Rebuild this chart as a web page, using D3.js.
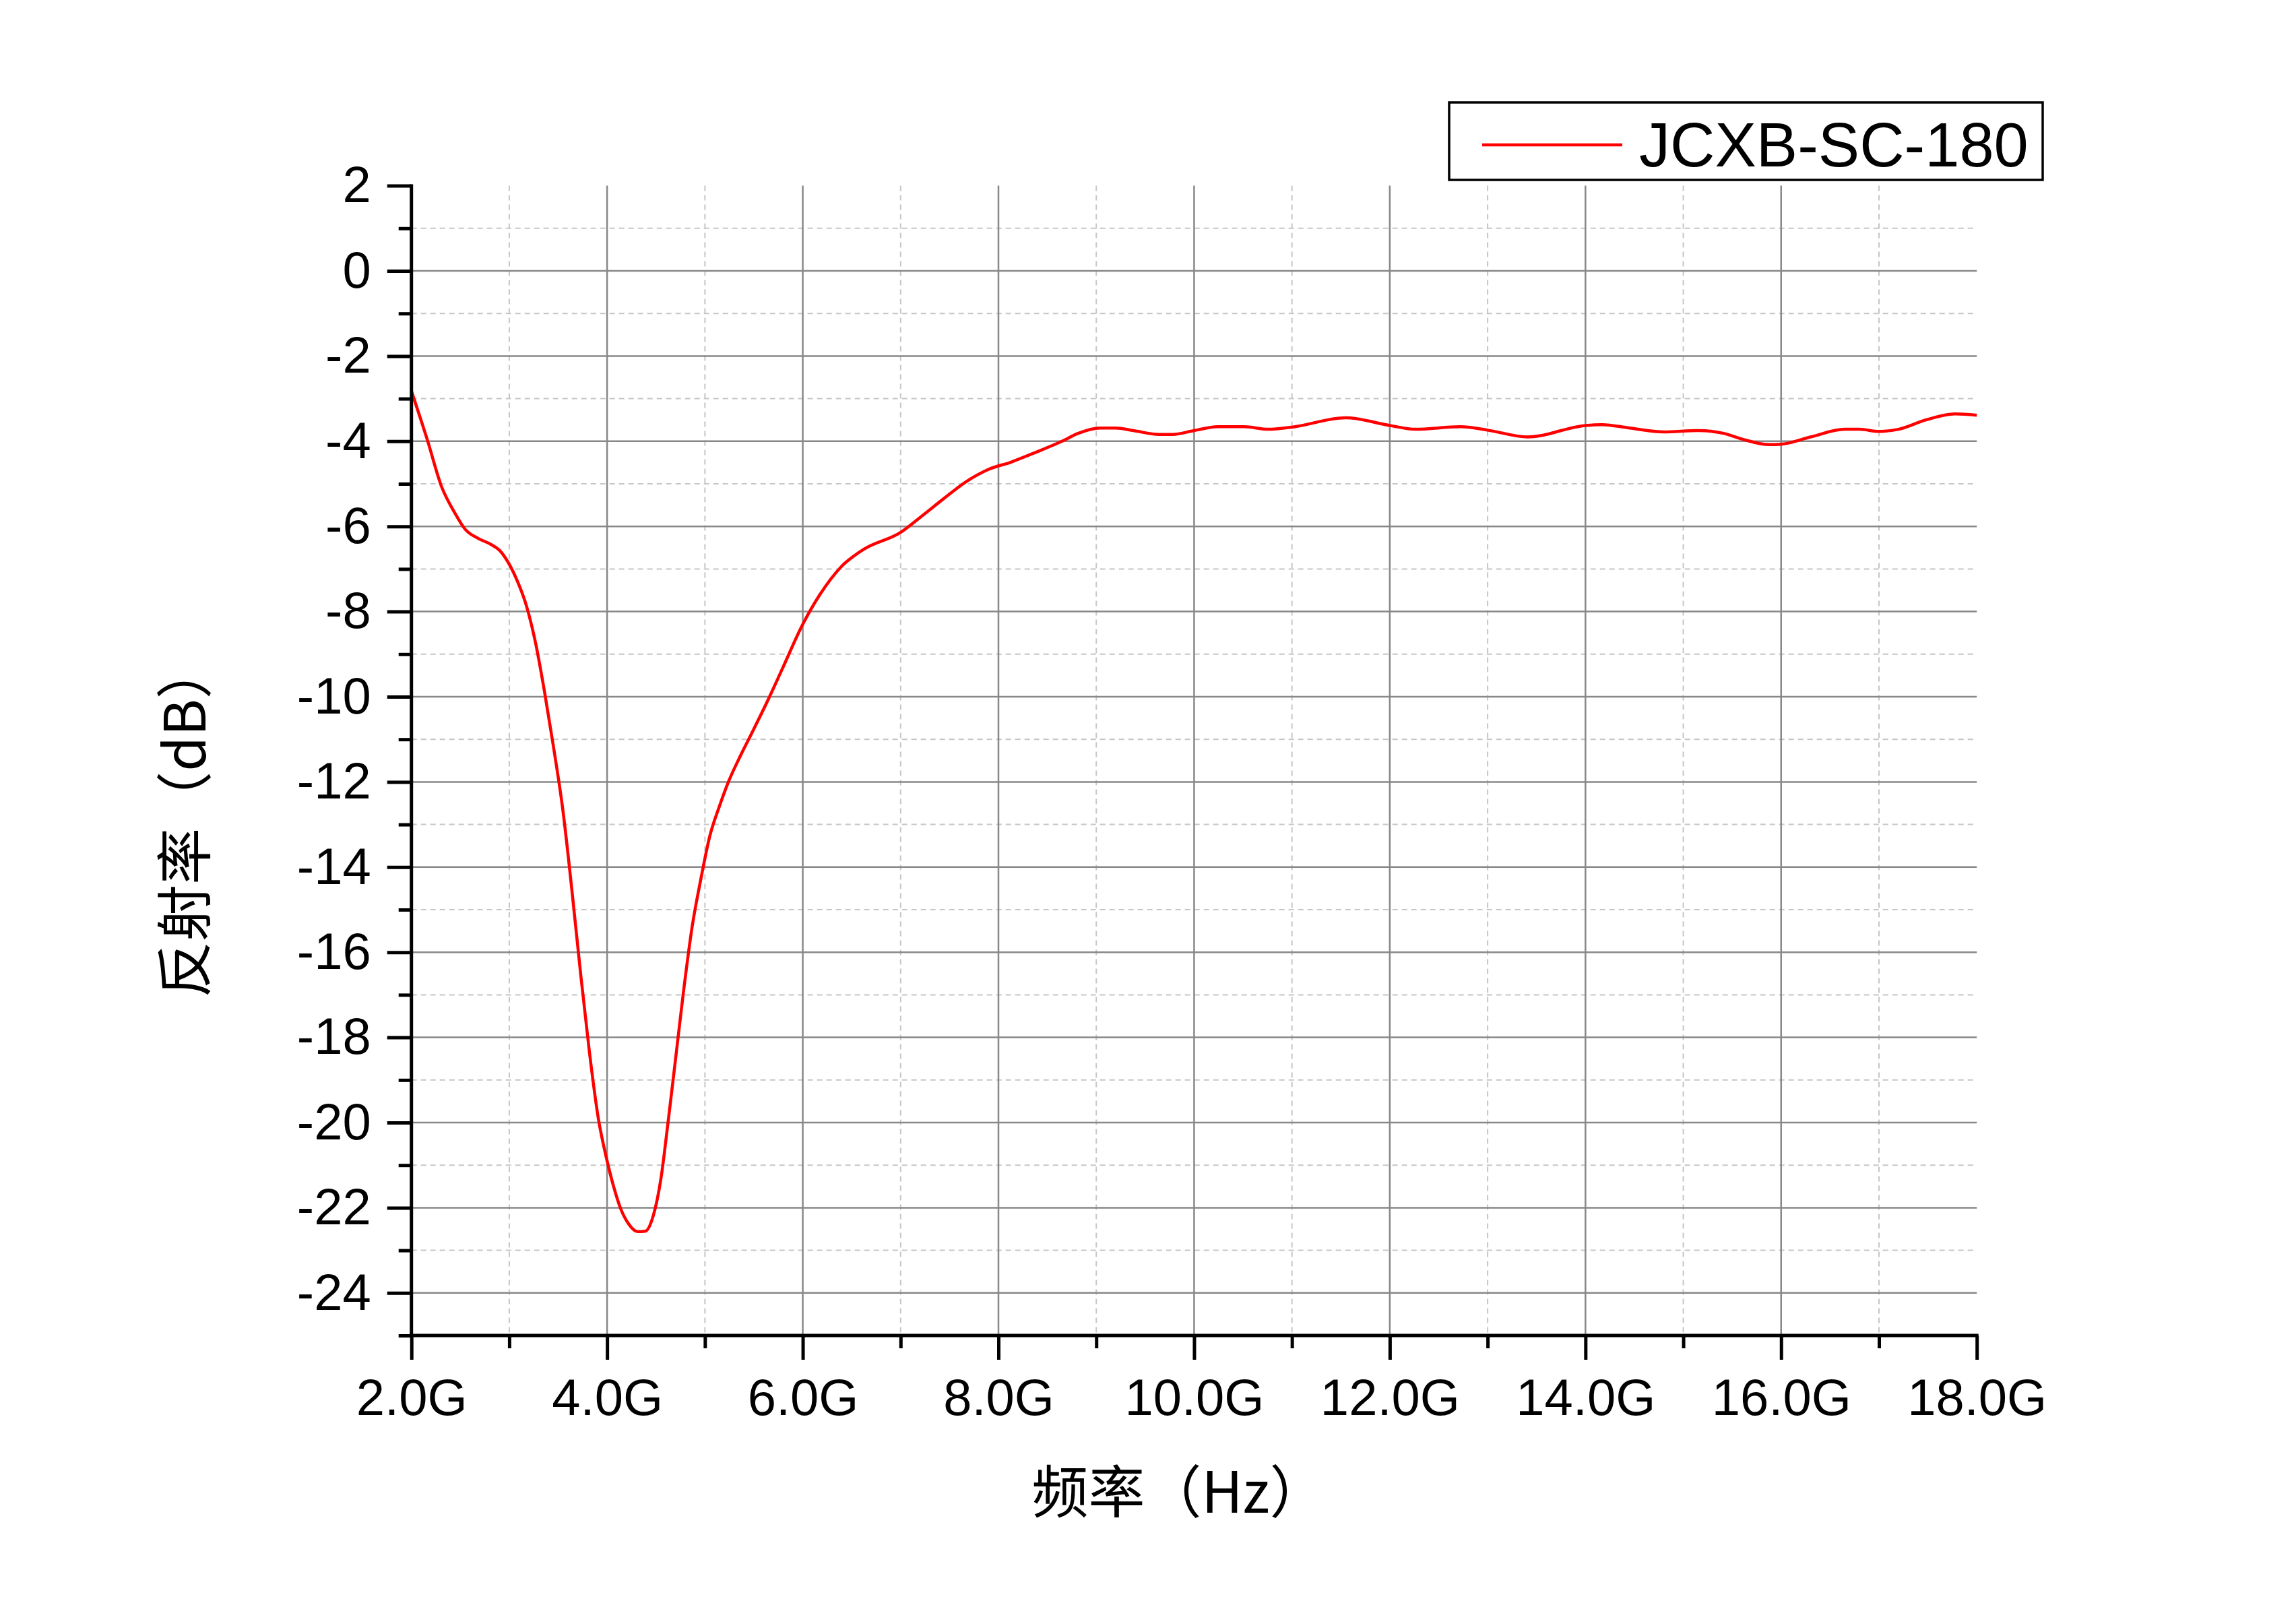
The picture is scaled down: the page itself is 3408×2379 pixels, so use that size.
<!DOCTYPE html>
<html>
<head>
<meta charset="utf-8">
<script src="https://cdn.jsdelivr.net/npm/d3@7"></script>
<style>
  body { margin: 0; background: #fff; }
  svg { display: block; }
  text { font-family: "Liberation Sans", Arial, sans-serif; fill: #000; }
</style>
</head>
<body>
<svg id="chart" width="3408" height="2379"></svg>
<script>
// frequency in GHz, reflectivity in dB
const freq = [2.0, 2.16, 2.31, 2.44, 2.55, 2.68, 2.81, 2.9, 3.0, 3.08, 3.18, 3.27, 3.36, 3.45, 3.55, 3.64, 3.73, 3.82, 3.91, 4.0,
  4.07, 4.14, 4.22, 4.31, 4.39, 4.47, 4.55, 4.62, 4.7, 4.78, 4.87, 4.96, 5.05, 5.15, 5.24, 5.36, 5.48, 5.64, 5.79,
  6.0, 6.17, 6.4, 6.63, 7.0, 7.21, 7.44, 7.67, 7.9, 8.13, 8.35, 8.65, 8.81, 9.04, 9.2, 9.38, 9.64, 9.78, 10.0, 10.24,
  10.51, 10.76, 11.0, 11.55, 12.0, 12.26, 12.72, 13.0, 13.41, 14.0, 14.17, 14.45, 14.8, 15.15, 15.42, 15.6, 15.88, 16.0,
  16.3, 16.65, 16.8, 17.0, 17.2, 17.48, 17.78, 18.0];
const refl = [-2.82, -3.95, -5.08, -5.67, -6.07, -6.28, -6.42, -6.56, -6.89, -7.27, -7.9, -8.75, -9.88, -11.15, -12.7, -14.54, -16.52, -18.36, -19.9, -20.9,
  -21.53, -22.03, -22.38, -22.56, -22.55, -22.2, -21.32, -20.05, -18.5, -16.94, -15.39, -14.26, -13.27, -12.56, -12.0, -11.4, -10.85, -10.1, -9.35,
  -8.3, -7.62, -6.93, -6.53, -6.14, -5.77, -5.35, -4.95, -4.66, -4.49, -4.29, -4.0, -3.82, -3.69, -3.69, -3.75, -3.84, -3.84, -3.75, -3.66,
  -3.66, -3.72, -3.67, -3.45, -3.63, -3.72, -3.66, -3.74, -3.9, -3.63, -3.61, -3.69, -3.78, -3.75, -3.82, -3.95, -4.08, -4.07,
  -3.9, -3.72, -3.72, -3.77, -3.72, -3.5, -3.36, -3.39];

const xTicks = [2, 4, 6, 8, 10, 12, 14, 16, 18];
const xMinor = [3, 5, 7, 9, 11, 13, 15, 17];
const yTicks = [2, 0, -2, -4, -6, -8, -10, -12, -14, -16, -18, -20, -22, -24];
const yMinor = [1, -1, -3, -5, -7, -9, -11, -13, -15, -17, -19, -21, -23, -25];
const seriesName = "JCXB-SC-180";

const svg = d3.select("#chart");
const pLeft = 610.7, pRight = 2934.2, pTop = 275.6, pBottom = 1982;

const x = d3.scaleLinear().domain([2, 18]).range([pLeft, pRight]);
const y = d3.scaleLinear().domain([-25, 2]).range([pBottom, pTop]);

// minor grid (dashed)
const grid = svg.append("g");
grid.selectAll(".hmin").data(yMinor.filter(d => d > -25)).enter().append("line")
  .attr("x1", pLeft).attr("x2", pRight)
  .attr("y1", d => y(d)).attr("y2", d => y(d))
  .attr("stroke", "#c6c6c6").attr("stroke-width", 2).attr("stroke-dasharray", "8,6");
grid.selectAll(".vmin").data(xMinor).enter().append("line")
  .attr("x1", d => x(d)).attr("x2", d => x(d))
  .attr("y1", pTop).attr("y2", pBottom)
  .attr("stroke", "#c6c6c6").attr("stroke-width", 2).attr("stroke-dasharray", "8,6");

// major grid
grid.selectAll(".hmaj").data(yTicks.filter(d => d < 2)).enter().append("line")
  .attr("x1", pLeft).attr("x2", pRight)
  .attr("y1", d => y(d)).attr("y2", d => y(d))
  .attr("stroke", "#888").attr("stroke-width", 2.5);
grid.selectAll(".vmaj").data(xTicks.filter(d => d > 2 && d < 18)).enter().append("line")
  .attr("x1", d => x(d)).attr("x2", d => x(d))
  .attr("y1", pTop).attr("y2", pBottom)
  .attr("stroke", "#888").attr("stroke-width", 2.5);

// curve
const line = d3.line()
  .x((d, i) => x(freq[i]))
  .y(d => y(d))
  .curve(d3.curveMonotoneX);

svg.append("path")
  .datum(refl)
  .attr("d", line)
  .attr("fill", "none")
  .attr("stroke", "#ff0000")
  .attr("stroke-width", 4.5)
  .attr("stroke-linejoin", "round");

// axes
const xAxis = d3.axisBottom(x).tickValues(xTicks).tickSize(36).tickPadding(28)
  .tickFormat(d => d.toFixed(1) + "G");
const xAxisMinor = d3.axisBottom(x).tickValues(xMinor).tickSize(19).tickFormat("");
const yAxis = d3.axisLeft(y).tickValues(yTicks).tickSize(36).tickPadding(24)
  .tickFormat(d => d);
const yAxisMinor = d3.axisLeft(y).tickValues(yMinor).tickSize(19).tickFormat("");

function styleAxis(g) {
  g.select(".domain").remove();
  g.selectAll(".tick line").attr("stroke", "#000").attr("stroke-width", 5);
  g.selectAll(".tick text").attr("font-size", 76).attr("fill", "#000")
    .attr("font-family", "Liberation Sans, Arial, sans-serif");
}

svg.append("g").attr("transform", `translate(0,${pBottom})`).call(xAxisMinor).call(styleAxis);
svg.append("g").attr("transform", `translate(0,${pBottom})`).call(xAxis).call(styleAxis);
svg.append("g").attr("transform", `translate(${pLeft},0)`).call(yAxisMinor).call(styleAxis);
svg.append("g").attr("transform", `translate(${pLeft},0)`).call(yAxis).call(styleAxis);

// axis lines
svg.append("line").attr("x1", pLeft).attr("x2", pLeft).attr("y1", pTop - 2).attr("y2", pBottom + 2.5)
  .attr("stroke", "#000").attr("stroke-width", 5);
svg.append("line").attr("x1", pLeft - 2.5).attr("x2", pRight + 2.5).attr("y1", pBottom).attr("y2", pBottom)
  .attr("stroke", "#000").attr("stroke-width", 5);

// axis titles
svg.append("text")
  .attr("x", 1750).attr("y", 2245)
  .attr("text-anchor", "middle")
  .attr("font-size", 84)
  .style("font-family", "'Noto Sans CJK SC', sans-serif")
  .text("频率（Hz）");

svg.append("text")
  .attr("transform", "translate(305,1217) rotate(-90)")
  .attr("text-anchor", "middle")
  .attr("font-size", 84)
  .style("font-family", "'Noto Sans CJK SC', sans-serif")
  .text("反射率（dB）");

// legend
const legend = svg.append("g");
legend.append("rect")
  .attr("x", 2151).attr("y", 152).attr("width", 881).attr("height", 115)
  .attr("fill", "#fff").attr("stroke", "#000").attr("stroke-width", 3.5);
legend.append("line")
  .attr("x1", 2200).attr("x2", 2408).attr("y1", 215).attr("y2", 215)
  .attr("stroke", "#ff0000").attr("stroke-width", 4.5);
legend.append("text")
  .attr("x", 2433).attr("y", 247)
  .attr("font-size", 92)
  .text(seriesName);
</script>
</body>
</html>
